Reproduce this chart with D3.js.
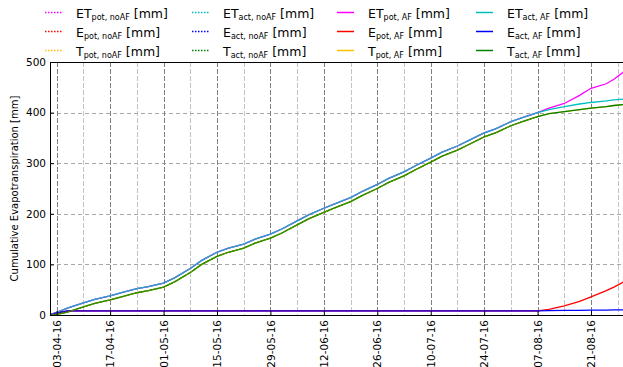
<!DOCTYPE html>
<html>
<head>
<meta charset="utf-8">
<script src="https://cdnjs.cloudflare.com/ajax/libs/d3/7.8.5/d3.min.js"></script>
<style>
  body { margin: 0; background: #fff; }
  svg { display: block; font-family: "DejaVu Sans", sans-serif; }
</style>
</head>
<body>
<svg id="chart" width="623" height="367"></svg>
<script>
// dates of the season without agroforestry (ends 07-08)
var datesNoAF = ["01-04-16","03-04-16","06-04-16","10-04-16","13-04-16","17-04-16","20-04-16",
  "24-04-16","27-04-16","01-05-16","04-05-16","08-05-16","11-05-16","15-05-16","18-05-16",
  "22-05-16","25-05-16","29-05-16","01-06-16","05-06-16","08-06-16","12-06-16","15-06-16",
  "19-06-16","22-06-16","26-06-16","29-06-16","03-07-16","06-07-16","10-07-16","13-07-16",
  "17-07-16","20-07-16","24-07-16","27-07-16","31-07-16","03-08-16","07-08-16"];
var etPotNoAF = [0,5,14,24,31,38,44,52,56,63,74,92,108,124,132,140,150,160,170,186,198,211,220,
  232,244,258,270,283,295,310,322,334,345,360,368,382,390,400];
var ePotNoAF = [0,4,8,8,8,8,8,8,8,8,8,8,8,8,8,8,8,8,8,8,8,8,8,8,8,8,8,8,8,8,8,8,8,8,8,8,8,8];
var tPotNoAF = [0,1,6,16,23,30,36,44,48,55,66,84,100,116,124,132,142,152,162,178,190,203,212,
  224,236,250,262,275,287,302,314,326,337,352,360,374,382,392];
// actual values coincide with potential ones in the noAF run
var etActNoAF = etPotNoAF;
var eActNoAF = ePotNoAF;
var tActNoAF = tPotNoAF;

// agroforestry run: same as noAF up to 07-08, then continues
var lateDates = ["10-08-16","14-08-16","18-08-16","21-08-16","25-08-16","27-08-16","30-08-16"];
var datesAF = datesNoAF.concat(lateDates);
var etPotAF = etPotNoAF.concat([409,418,434,448,457,466,483]);
var ePotAF = ePotNoAF.concat([11,18,27,36,48,55,67]);
var tPotAF = tPotNoAF.concat([398,402,406,409,412,414,416]);
var etActAF = etActNoAF.concat([406,412,417,420,423,425,427]);
var eActAF = eActNoAF.concat([8.5,9,9.3,9.6,9.8,10,10.3]);
var tActAF = tActNoAF.concat([398,402,406,409,412,414,416]);

var xTickLabels = ["03-04-16","17-04-16","01-05-16","15-05-16","29-05-16","12-06-16",
  "26-06-16","10-07-16","24-07-16","07-08-16","21-08-16"];
var yTicks = [0,100,200,300,400,500];

(function () {
  var parse = d3.timeParse("%d-%m-%y");

  var mLeft = 50, mTop = 62, mBottom = 315, mRight = 633;
  var svg = d3.select("#chart");

  var x = d3.scaleTime()
    .domain([new Date(2016,3,1,6), new Date(2016,8,1)])
    .range([mLeft, mRight]);
  var y = d3.scaleLinear().domain([0,500]).range([mBottom, mTop]);

  svg.append("clipPath").attr("id","plotclip")
    .append("rect").attr("x", mLeft).attr("y", mTop)
    .attr("width", mRight - mLeft).attr("height", mBottom - mTop);

  var majorDates = xTickLabels.map(parse);
  var minorDates = d3.timeWeek.range(x.domain()[0], x.domain()[1])
    .filter(function (d) { return !majorDates.some(function (m) { return +m === +d; }); });

  // grid
  var grid = svg.append("g").attr("clip-path","url(#plotclip)");
  grid.selectAll("line.minor").data(minorDates).enter().append("line")
    .attr("x1", function (d) { return Math.round(x(d)) + 0.5; })
    .attr("x2", function (d) { return Math.round(x(d)) + 0.5; })
    .attr("y1", mTop).attr("y2", mBottom)
    .attr("stroke","#c4c4c4").attr("stroke-dasharray","5,2");
  grid.selectAll("line.hy").data(yTicks.slice(1,-1)).enter().append("line")
    .attr("x1", mLeft).attr("x2", mRight)
    .attr("y1", function (d) { return Math.round(y(d)) + 0.5; })
    .attr("y2", function (d) { return Math.round(y(d)) + 0.5; })
    .attr("stroke","#a8a8a8").attr("stroke-dasharray","4,3");
  grid.selectAll("line.major").data(majorDates).enter().append("line")
    .attr("x1", function (d) { return Math.round(x(d)) + 0.5; })
    .attr("x2", function (d) { return Math.round(x(d)) + 0.5; })
    .attr("y1", mTop).attr("y2", mBottom)
    .attr("stroke","#808080").attr("stroke-dasharray","5,2");

  // series: [dates, values, colour, dash pattern]
  // AF runs solid underneath, noAF runs dotted on top (fine dots blend on screen)
  var series = [
    [datesAF, etPotAF, "#ff00ff", null],
    [datesAF, ePotAF, "#ff0000", null],
    [datesAF, tPotAF, "#ffc000", null],
    [datesAF, etActAF, "#00bfbf", null],
    [datesAF, eActAF, "#0000ff", null],
    [datesAF, tActAF, "#008000", null],
    [datesNoAF, etActNoAF, "#00bfbf", "0.5,0.5"],
    [datesNoAF, eActNoAF, "#0000ff", "0.5,0.5"],
    [datesNoAF, tActNoAF, "#008000", "0.5,0.5"],
    [datesNoAF, etPotNoAF, "#ff00ff", "0.3,1.2"],
    [datesNoAF, ePotNoAF, "#ff0000", "0.3,1.2"],
    [datesNoAF, tPotNoAF, "#ffc000", "0.3,1.2"]
  ];

  var line = d3.line()
    .x(function (d) { return x(d[0]); })
    .y(function (d) { return y(d[1]); });

  var lines = svg.append("g").attr("clip-path","url(#plotclip)");
  series.forEach(function (s) {
    var pts = s[0].map(function (d, i) { return [parse(d), s[1][i]]; });
    var p = lines.append("path").datum(pts)
      .attr("d", line).attr("fill","none")
      .attr("stroke", s[2]).attr("stroke-width", 1.3);
    if (s[3]) p.attr("stroke-dasharray", s[3]);
  });

  // spines
  svg.append("line").attr("x1", mLeft + 0.5).attr("x2", mLeft + 0.5).attr("y1", mTop).attr("y2", mBottom)
    .attr("stroke","#000");
  svg.append("line").attr("x1", mLeft).attr("x2", mRight).attr("y1", mTop + 0.5).attr("y2", mTop + 0.5)
    .attr("stroke","#000");
  svg.append("line").attr("x1", mLeft).attr("x2", mRight).attr("y1", mBottom + 0.5).attr("y2", mBottom + 0.5)
    .attr("stroke","#000");

  // axes
  var xAxis = d3.axisBottom(x).tickValues(majorDates).tickFormat(d3.timeFormat("%d-%m-%y"))
    .tickSizeInner(-4).tickSizeOuter(0).tickPadding(4);
  var gx = svg.append("g").attr("transform","translate(0," + mBottom + ")").call(xAxis);
  gx.select(".domain").remove();
  gx.selectAll("text")
    .attr("transform","rotate(-90)")
    .attr("x", -5).attr("y", 0).attr("dy","0.35em")
    .style("text-anchor","end")
    .attr("font-size", 10.5).attr("fill","#000")
    .attr("font-family","DejaVu Sans");

  var yAxis = d3.axisLeft(y).tickValues(yTicks).tickSizeInner(-4).tickSizeOuter(0).tickPadding(4);
  var gy = svg.append("g").attr("transform","translate(" + mLeft + ",0)").call(yAxis);
  gy.select(".domain").remove();
  gy.selectAll("text").attr("font-size", 10.5).attr("fill","#000").attr("font-family","DejaVu Sans");

  svg.append("text")
    .attr("transform","translate(18," + ((mTop + mBottom) / 2) + ") rotate(-90)")
    .attr("text-anchor","middle")
    .attr("font-size", 10)
    .text("Cumulative Evapotranspiration [mm]");

  // legend
  var legendItems = [
    ["ET","pot, noAF","#ff00ff",true], ["E","pot, noAF","#ff0000",true], ["T","pot, noAF","#ffc000",true],
    ["ET","act, noAF","#00bfbf",true], ["E","act, noAF","#0000ff",true], ["T","act, noAF","#008000",true],
    ["ET","pot, AF","#ff00ff",false], ["E","pot, AF","#ff0000",false], ["T","pot, AF","#ffc000",false],
    ["ET","act, AF","#00bfbf",false], ["E","act, AF","#0000ff",false], ["T","act, AF","#008000",false]
  ];
  var colX = [45, 192, 337, 476];
  var rowY = [12.5, 31.5, 50.5];
  var leg = svg.append("g");
  legendItems.forEach(function (it, i) {
    var cx = colX[Math.floor(i / 3)], cy = rowY[i % 3];
    var l = leg.append("line").attr("x1", cx).attr("x2", cx + 17).attr("y1", cy).attr("y2", cy)
      .attr("stroke", it[2]).attr("stroke-width", 1.5);
    if (it[3]) l.attr("stroke-dasharray","1.5,1.5");
    var t = leg.append("text").attr("x", cx + 31).attr("y", cy + 5).attr("font-size", 12.5);
    t.append("tspan").text(it[0]);
    t.append("tspan").attr("font-size", 8).attr("dy", 2).text(it[1]);
    t.append("tspan").attr("dy", -2).text(" [mm]");
  });
})();
</script>
</body>
</html>
